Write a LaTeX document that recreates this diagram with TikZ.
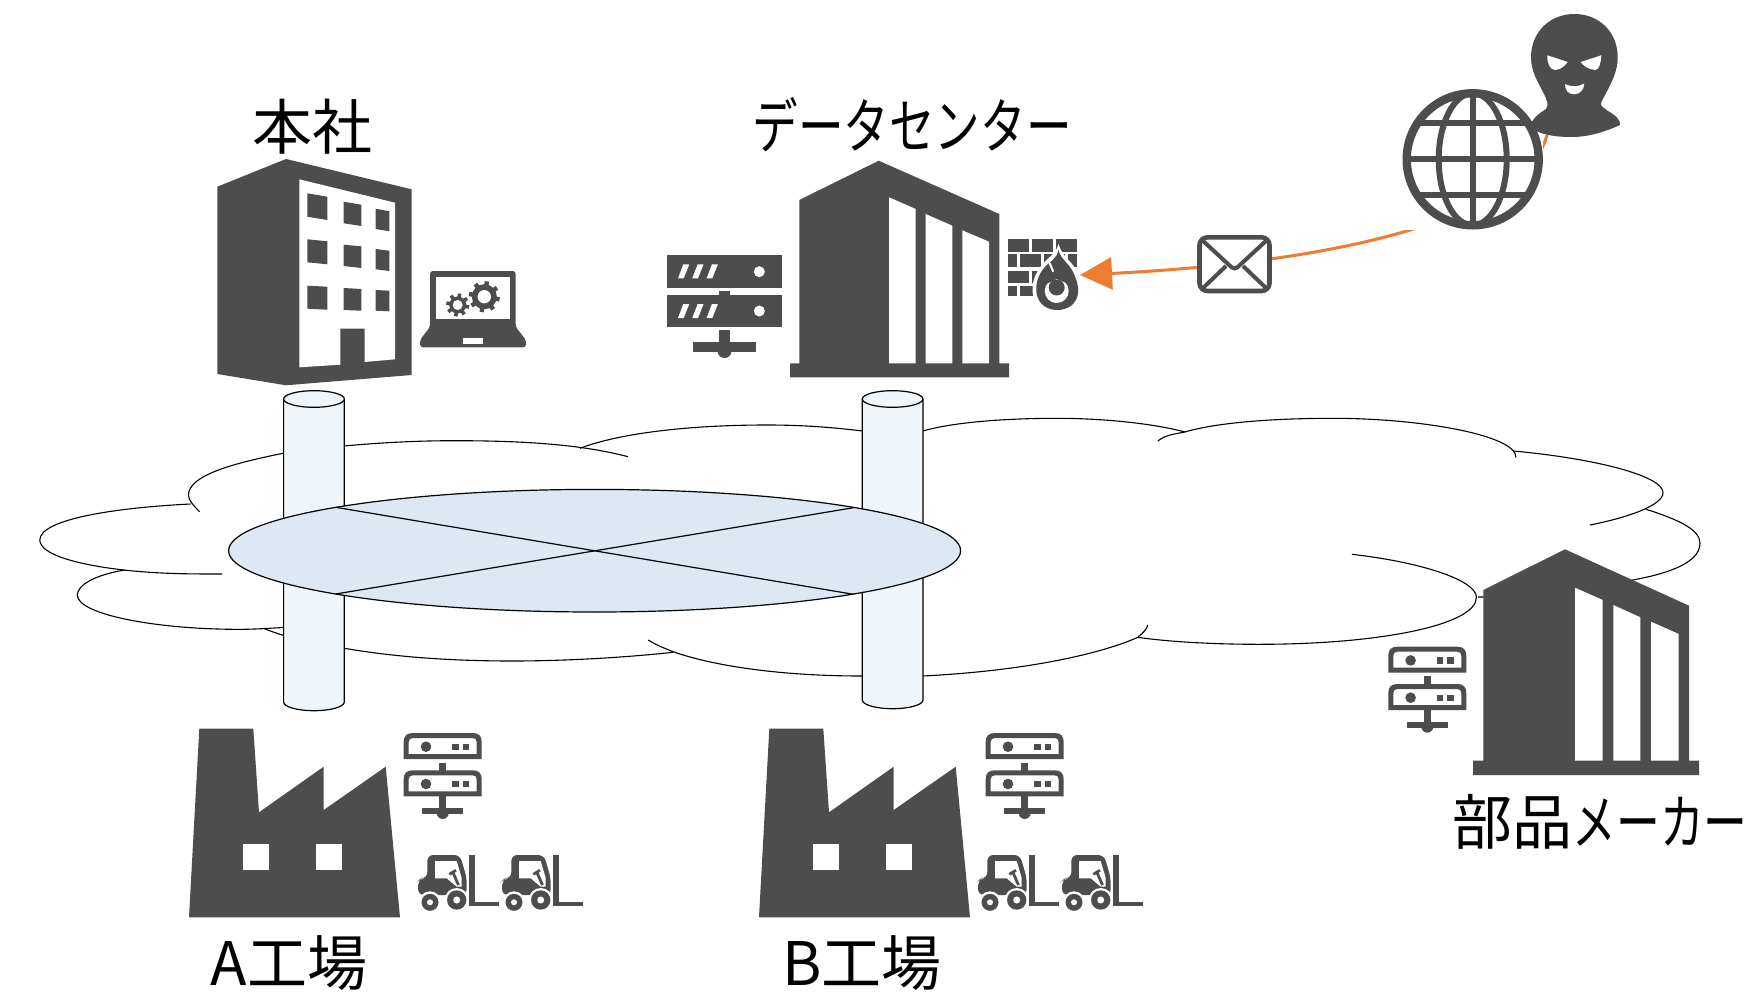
\documentclass[tikz,border=0pt]{standalone}
\usepackage{fontspec}
\usepackage{graphicx}
\setmainfont{Noto Sans CJK JP}
\usetikzlibrary{arrows.meta}
\definecolor{dk}{HTML}{4D4D4D}
\definecolor{orangeline}{HTML}{ED7D31}
\definecolor{cylfill}{HTML}{F0F5F9}
\definecolor{diskfill}{HTML}{DEE8F2}
\tikzset{
  cloudline/.style={draw=black,line width=0.55pt,fill=none},
  cylstyle/.style={draw=black,line width=0.6pt,fill=cylfill},
  diskstyle/.style={draw=black,line width=0.6pt,fill=diskfill},
  lbl/.style={font=\fontsize{30}{30}\selectfont,text=black,inner sep=0pt},
  attack/.style={draw=orangeline,line width=1.5pt,-{Triangle[length=16pt,width=16pt]}},
  globeline/.style={draw=dk,line width=3pt},
  pics/lightserver/.style={code={
    \foreach \yy in {0,37.3}{
      \fill[dk,even odd rule] (0,\yy+26) -- (0,\yy+9) .. controls (0,\yy+3) and (3,\yy) .. (9,\yy) -- (69,\yy) .. controls (75,\yy) and (78,\yy+3) .. (78,\yy+9) -- (78,\yy+26) -- cycle
        (5,\yy+21) -- (5,\yy+9) .. controls (5,\yy+6.5) and (6.5,\yy+5) .. (9,\yy+5) -- (69,\yy+5) .. controls (71.5,\yy+5) and (73,\yy+6.5) .. (73,\yy+9) -- (73,\yy+21) -- cycle;
      \fill[dk] (22.3,\yy+13.7) circle[radius=5.3];
      \fill[dk] (48.3,\yy+10.7) rectangle (55,\yy+17);
      \fill[dk] (59,\yy+10.7) rectangle (65.7,\yy+17);
    }
    \fill[dk] (35.7,29.7) rectangle (42.3,37.7);
    \fill[dk] (35.7,63) rectangle (42.3,76);
    \fill[dk] (18.3,75) rectangle (59.7,81);
    \fill[dk] (39,80) circle[radius=6];
  }},
  pics/forklift/.style={code={
    \fill[dk] (50.7,0) rectangle (57.3,51.3);
    \fill[dk] (50.7,46.5) rectangle (81.3,51.3);
    \fill[dk,rounded corners=3pt] (0,40) -- (0,26) -- (3,23.3) -- (9.3,23.3) -- (9.3,0) -- (42,0) -- (48.7,23) -- (48.7,40) -- cycle;
    \fill[white] (17,6) -- (38.7,6) -- (43.7,23) -- (43.7,31.7) -- (38.7,31.7) -- (28.7,23.3) -- (17,23.3) -- cycle;
    \draw[dk,line width=1.4pt] (31.3,19.3) -- (38,15.3);
    \draw[dk,line width=1.4pt] (35.3,18.3) -- (40.5,30);
    \fill[white] (12,47.3) circle[radius=11];
    \fill[white] (38.7,45) circle[radius=12];
    \fill[dk] (12,47.3) circle[radius=8.5];
    \fill[dk] (38.7,45) circle[radius=9.7];
    \fill[white] (12,47.3) circle[radius=3];
    \fill[white] (38.7,45) circle[radius=3.5];
  }}
}
\newcommand\mygear[5]{%
  \foreach \a in {0,45,...,315}{\draw[dk,line width=#5pt] (#1,#2) -- ++(\a+10:#3);}
  \fill[dk] (#1,#2) circle[radius=#3-3];
  \fill[white] (#1,#2) circle[radius=#4];
}
\begin{document}
\begin{tikzpicture}[x=0.5pt,y=-0.5pt]
\useasboundingbox (0,0) rectangle (1756,995);
\fill[white] (0,0) rectangle (1756,995);

% cloud
\draw[cloudline] (199.6,511.7) .. controls (193,505) and (188.5,500) .. (188.5,495) .. controls (188.5,475) and (235,463) .. (283,453.3) .. controls (340,445) and (400,440.7) .. (454,440.7) .. controls (520,440.7) and (580,444) .. (628,456.7);
\draw[cloudline] (190.7,504) .. controls (110,508) and (39.8,520) .. (39.8,540) .. controls (39.8,555) and (80,565) .. (123.8,570) .. controls (160,574) and (190,574) .. (222,574);
\draw[cloudline] (124.6,570) .. controls (95,575) and (77.3,585) .. (77.3,595) .. controls (77.3,615) and (160,630) .. (244,629.3) .. controls (260,629) and (275,628) .. (290,627);
\draw[cloudline] (264.4,628.7) .. controls (270,631) and (276,633) .. (283,635.3) .. controls (305,642) and (325,645) .. (344.7,648.3) .. controls (400,658) and (460,661) .. (512,661) .. controls (570,661) and (630,657) .. (672.9,652.3);
\draw[cloudline] (648.3,640) .. controls (656,645) and (664,648) .. (672.9,651.7) .. controls (720,668) and (790,676) .. (861.6,676) -- (923,676) .. controls (1040,670) and (1110,650) .. (1137.7,637.3) .. controls (1143,633) and (1147,629) .. (1147.8,625);
\draw[cloudline] (1137.7,637.3) .. controls (1170,642) and (1215,644.3) .. (1259,644.3) .. controls (1380,644.3) and (1476.4,625) .. (1476.4,597.3) .. controls (1476.4,580) and (1420,562) .. (1351.9,554.3);
\draw[cloudline] (1646,509.3) .. controls (1680,520) and (1700,530) .. (1700,543.3) .. controls (1700,565) and (1660,575) .. (1632.7,580) .. controls (1590,592) and (1530,597) .. (1478,597);
\draw[cloudline] (1513.5,451) .. controls (1590,458) and (1663,475) .. (1663,492.7) .. controls (1663,505) and (1630,517) .. (1590,525);
\draw[cloudline] (1157.9,441) .. controls (1165,435) and (1175,434) .. (1184.8,432) .. controls (1215,423) and (1270,418.3) .. (1333,418.3) .. controls (1420,418.3) and (1516,435) .. (1516,457.3);
\draw[cloudline] (580,448.3) .. controls (620,433) and (690,425) .. (767,425) .. controls (800,425) and (830,427) .. (862.3,431);
\draw[cloudline] (923,431) .. controls (950,423) and (1000,418.3) .. (1057,418.3) .. controls (1110,418.3) and (1160,425) .. (1184.8,432);

% cylinders
\path[cylstyle] (283.6,399) -- (283.6,702) arc[start angle=180,end angle=0,x radius=30.35,y radius=8.7] -- (344.3,399);
\path[cylstyle] (314,399) ellipse[x radius=30.35,y radius=8.3];
\path[cylstyle] (862.3,399) -- (862.3,700) arc[start angle=180,end angle=0,x radius=30.35,y radius=8.7] -- (923,399);
\path[cylstyle] (892.6,399) ellipse[x radius=30.35,y radius=8.3];

% disk
\path[diskstyle] (594.6,550.7) ellipse[x radius=366,y radius=61.3];
\coordinate (da) at (335.8,507.3);
\coordinate (db) at (853.5,594.3);
\coordinate (dc) at (335.8,594);
\coordinate (dd) at (853.5,507.7);
\draw[black,line width=0.6pt] (da) -- (db);
\draw[black,line width=0.6pt] (dc) -- (dd);

% head office
\fill[dk] (217.3,186.7) -- (286,159) -- (411.7,189.3) -- (411.7,375) -- (286,385.3) -- (217.3,374) -- cycle;
\fill[white] (299.3,179.3) -- (395,202.7) -- (395,359.3) -- (364.7,362) -- (364.7,328.7) -- (340.3,328.7) -- (340.3,364.7) -- (299.3,367.3) -- cycle;
\fill[dk] (307.3,193.3) -- (327.3,196.7) -- (327.3,220) -- (307.3,216.7) -- cycle;
\fill[dk] (343.7,201.7) -- (361.3,204.7) -- (361.3,226) -- (343.7,223.3) -- cycle;
\fill[dk] (375.7,208.7) -- (389.3,211.3) -- (389.3,231.3) -- (375.7,229) -- cycle;
\fill[dk] (307.3,239.3) -- (327.3,241.3) -- (327.3,264.3) -- (307.3,262.3) -- cycle;
\fill[dk] (343.7,244.7) -- (361.3,246.3) -- (361.3,268) -- (343.7,266) -- cycle;
\fill[dk] (375.7,249) -- (389.3,250.7) -- (389.3,271) -- (375.7,269.3) -- cycle;
\fill[dk] (307.3,285.7) -- (327.3,286.7) -- (327.3,309.7) -- (307.3,308.7) -- cycle;
\fill[dk] (343.7,288) -- (361.3,289) -- (361.3,310.7) -- (343.7,310) -- cycle;
\fill[dk] (375.7,290) -- (389.3,290.7) -- (389.3,311.3) -- (375.7,310.7) -- cycle;

% laptop
\fill[dk,rounded corners=1.5pt] (430,327) -- (430,271) -- (515.7,271) -- (515.7,327) -- (526,340) -- (526,347.3) -- (420,347.3) -- (420,340) -- cycle;
\fill[white] (436,277.3) rectangle (510,319.3);
\fill[white] (462.7,338.3) rectangle (483.3,343.7);
\mygear{484.3}{296.7}{15.5}{6.7}{2.2}
\mygear{457.7}{305}{11.5}{5}{1.8}

% data centre
\fill[dk] (799.3,200) -- (878.7,160.7) -- (999.3,214) -- (999.3,363.3) -- (1009,363.3) -- (1009,377.3) -- (790,377.3) -- (790,363.3) -- (799.3,363.3) -- cycle;
\fill[white] (889,197.3) -- (915.7,209) -- (915.7,363.3) -- (889,363.3) -- cycle;
\fill[white] (925.7,214) -- (952.3,225.7) -- (952.3,363.3) -- (925.7,363.3) -- cycle;
\fill[white] (962.3,230.3) -- (989,241.7) -- (989,363.3) -- (962.3,363.3) -- cycle;

% dark server
\foreach \yy/\cy in {255.3/271.7,295/311}{
  \fill[dk] (667,\yy) rectangle (782,\yy+32.3);
  \fill[white] (759.3,\cy) circle[radius=5.5];
  \foreach \dx in {0,14.3,28.6}{
    \fill[white] (683.3+\dx,\yy+9) -- (689.3+\dx,\yy+9) -- (683.7+\dx,\yy+23) -- (678+\dx,\yy+23) -- cycle;
  }
}
\fill[dk] (719,290.7) rectangle (730,295);
\fill[dk] (719,330.3) rectangle (730,342);
\fill[dk] (693.3,341.7) rectangle (755.7,352.3);
\fill[dk] (724.5,351) circle[radius=7];

% firewall
\foreach \y/\h in {239/12.7,270.7/12.6}{
  \foreach \x/\w in {1008.3/21,1032/21.3,1056/21.3}{
    \fill[dk] (\x,\y) rectangle (\x+\w,\y+\h);
  }
}
\foreach \y/\h in {254/13.3,285.7/10.3}{
  \foreach \x/\w in {1008.3/9,1020/21.3,1044/21.3,1068/9.3}{
    \fill[dk] (\x,\y) rectangle (\x+\w,\y+\h);
  }
}
\path[fill=white] (1058.5,244) .. controls (1062,256) and (1070,260) .. (1075,268) .. controls (1082,280) and (1083,290) .. (1081,297) .. controls (1078,308) and (1068,313) .. (1057,313) .. controls (1045,313) and (1035,306) .. (1033,295) .. controls (1031,284) and (1035,274) .. (1041,266) .. controls (1048,257) and (1056,254) .. (1058.5,244) -- cycle;
\fill[dk] (1058.3,250) .. controls (1061,259) and (1068,263) .. (1072,270) .. controls (1078,281) and (1079,290) .. (1077.5,296) .. controls (1075,305) and (1067,310) .. (1057,310) .. controls (1047,310) and (1038.5,304) .. (1036.7,294) .. controls (1035,285) and (1038,275) .. (1044,268) .. controls (1050,261) and (1057,259) .. (1058.3,250) -- cycle;
\fill[white] (1056.7,291) circle[radius=12];
\fill[dk] (1056.7,287.5) circle[radius=8];
\fill[dk] (1044,285) -- (1056.7,279) -- (1069,284) -- (1069,272) -- (1044,272) -- cycle;
\draw[white,line width=1pt] (1048.3,260) -- (1053.3,271.7);

% attack line
\coordinate (atk) at (1547,135);
\coordinate (fwtip) at (1080,275);
\draw[attack] (atk) .. controls (1525,218) and (1340,262) .. (fwtip);

% envelope
\draw[dk,fill=white,line width=2.3pt,rounded corners=4pt] (1199.5,237.3) rectangle (1269.5,291);
\draw[dk,line width=2pt,line cap=round,rounded corners=2pt] (1202,240) -- (1234.5,270) -- (1267,240);
\draw[dk,line width=2pt] (1203,288) -- (1226,266);
\draw[dk,line width=2pt] (1266,288) -- (1243,266);

% globe
\fill[white] (1403,89) rectangle (1543,230);
\begin{scope}
  \clip (1472.7,159.3) circle[radius=68];
  \draw[globeline] (1403,123.3) -- (1543,123.3);
  \draw[globeline] (1403,159.3) -- (1543,159.3);
  \draw[globeline] (1403,195) -- (1543,195);
  \draw[globeline] (1472.7,89) -- (1472.7,230);
  \draw[globeline] (1472.7,159.3) ellipse[x radius=34,y radius=66];
\end{scope}
\draw[dk,line width=4.2pt] (1472.7,159.3) circle[radius=66];

% attacker
\fill[dk] (1574.3,14) .. controls (1600,14) and (1617.7,33) .. (1617.7,57) .. controls (1617.7,75) and (1608,88) .. (1601,103) .. controls (1600,106) and (1604,108) .. (1608,111) .. controls (1615,115) and (1621,120) .. (1620,125) .. controls (1600,134) and (1585,137) .. (1572,137) .. controls (1555,137) and (1540,135) .. (1530,127) .. controls (1532,118) and (1540,113) .. (1546,109) .. controls (1549,105) and (1547,100) .. (1544,94) .. controls (1538,82) and (1531,72) .. (1531,57) .. controls (1531,33) and (1549,14) .. (1574.3,14) -- cycle;
\fill[white] (1547.3,55.3) -- (1567.7,62) .. controls (1565,66) and (1560,70) .. (1555,70) .. controls (1550,70) and (1547,63) .. (1547.3,55.3) -- cycle;
\fill[white] (1601.3,55.3) -- (1580.7,62) .. controls (1583,66) and (1590,70) .. (1595,70) .. controls (1599,70) and (1601,63) .. (1601.3,55.3) -- cycle;
\fill[white] (1565,84) .. controls (1570,87) and (1580,87) .. (1584.3,83.3) .. controls (1584,90) and (1580,94.3) .. (1574,94.3) .. controls (1568,94.3) and (1565,90) .. (1565,84) -- cycle;

% factories
\foreach \s in {0,570}{
  \fill[dk,xshift=\s*0.5pt] (189,917.3) -- (199.3,728.7) -- (253.3,728.7) -- (259,812.3) -- (323.7,766.7) -- (323.7,810) -- (385.7,766.7) -- (400,917.3) -- cycle;
  \fill[white,xshift=\s*0.5pt] (243.3,844.3) rectangle (269.3,870);
  \fill[white,xshift=\s*0.5pt] (316,844.3) rectangle (341.7,870);
}
\pic (srvA) at (403.7,733) {lightserver};
\pic (srvB) at (985.7,733) {lightserver};
\pic (srvC) at (1388.3,646.7) {lightserver};
\pic (fkA1) at (418,855) {forklift};
\pic (fkA2) at (502,855) {forklift};
\pic (fkB1) at (978,855) {forklift};
\pic (fkB2) at (1062,855) {forklift};

% maker
\fill[dk] (1483.3,590) -- (1565,549.3) -- (1689,605.7) -- (1689,760.7) -- (1699,760.7) -- (1699,775) -- (1473,775) -- (1473,760.7) -- (1483.3,760.7) -- cycle;
\fill[white] (1575,587.7) -- (1602.7,600) -- (1602.7,760.7) -- (1575,760.7) -- cycle;
\fill[white] (1613.3,605) -- (1640.3,617.3) -- (1640.3,760.7) -- (1613.3,760.7) -- cycle;
\fill[white] (1651,621.7) -- (1678.7,634) -- (1678.7,760.7) -- (1651,760.7) -- cycle;

% labels
\node[lbl] (honsha) at (312,127) {本社};
\node[lbl] (dclabel) at (912,125) {\scalebox{0.76}[1]{データセンター}};
\node[lbl] (maker) at (1600,822) {部品\scalebox{0.73}[1]{メーカー}};
\node[lbl] (facA) at (289,963) {A工場};
\node[lbl] (facB) at (862,963) {B工場};
\end{tikzpicture}
\end{document}
